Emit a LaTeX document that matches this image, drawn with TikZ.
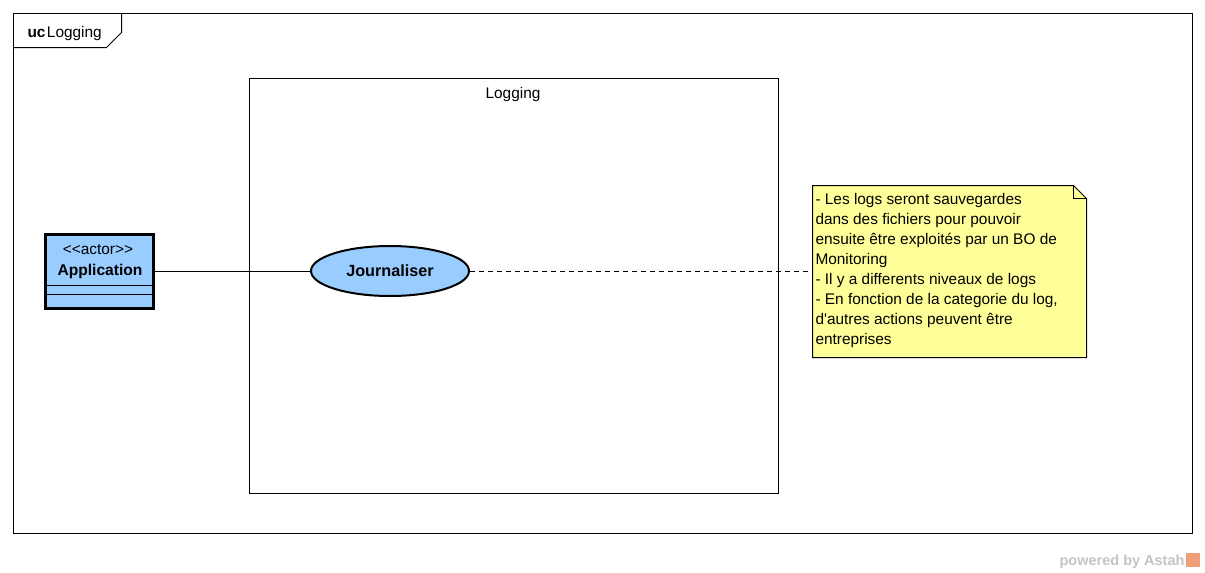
\documentclass[tikz,border=0pt]{standalone}
\usepackage{fontspec}
\setmainfont{Liberation Sans}
\usetikzlibrary{shapes.geometric}
\definecolor{actorblue}{HTML}{99CCFF}
\definecolor{noteyellow}{HTML}{FFFF99}
\definecolor{astahgray}{HTML}{C4C4C4}
\definecolor{astahorange}{HTML}{F0A078}
\begin{document}
\begin{tikzpicture}[x=1pt,y=-1pt,line width=1pt,font=\fontsize{15.4}{20}\selectfont,
  actorbox/.style={draw,line width=3pt,fill=actorblue,minimum width=108,minimum height=74,inner sep=0},
  usecase/.style={ellipse,draw,line width=2pt,fill=actorblue,minimum width=158,minimum height=50,inner sep=0,font=\bfseries\fontsize{16.2}{20}\selectfont},
  notedash/.style={dash pattern=on 5pt off 4pt}]
\useasboundingbox (0,0) rectangle (1205,573);
\draw (13.5,13.5) rectangle (1192.5,533.5);
\draw (13.5,47.5) -- (106.5,47.5) -- (121.5,32.5) -- (121.5,13.5);
\node[anchor=base west,inner sep=0] (frametitle) at (27,37) {\textbf{uc}\kern1.5pt Logging};
\draw (249.5,78.5) rectangle (778.5,493.5);
\node (systitle) at (513,95) {Logging};
\node[actorbox] (app) at (99.5,271) {};
\draw[line width=1pt] (46,285) -- (153,285);
\draw[line width=1pt] (46,294) -- (153,294);
\node (stereo) at (98,250) {<\kern0pt<actor>\kern0pt>};
\node[font=\bfseries\fontsize{15.6}{20}\selectfont] (appname) at (100,271) {Application};
\node[usecase] (journal) at (390,271) {Journaliser};
\draw (app.east) -- (journal.west);
\filldraw[fill=noteyellow] (812.5,185.5) -- (1073.5,185.5) -- (1086.5,198.5) -- (1086.5,357.5) -- (812.5,357.5) -- cycle;
\draw (1073.5,185.5) -- (1073.5,198.5) -- (1086.5,198.5);
\coordinate (notel) at (812.5,271);
\node[anchor=north west,align=left,inner sep=0] (notetext) at (815,193) {- Les logs seront sauvegardes\\dans des fichiers pour pouvoir\\ensuite être exploités par un BO de\\Monitoring\\- Il y a differents niveaux de logs\\- En fonction de la categorie du log,\\d\textquotesingle autres actions peuvent être\\entreprises};
\draw[notedash] (journal.east) -- (notel);
\node[anchor=base east,inner sep=0,text=astahgray,font=\bfseries\fontsize{14.5}{16}\selectfont] (powered) at (1185,565) {powered by Astah};
\fill[astahorange] (1186,553) rectangle (1200,567);
\end{tikzpicture}
\end{document}
